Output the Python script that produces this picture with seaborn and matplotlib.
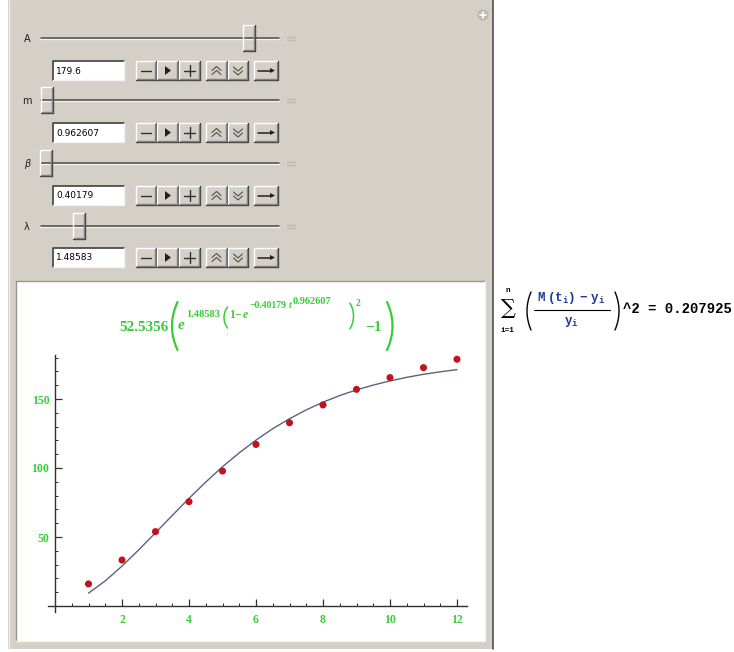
import numpy as np
import pandas as pd
import matplotlib
matplotlib.use("Agg")
import matplotlib.pyplot as plt
import seaborn as sns
from matplotlib.patches import Rectangle, Polygon, Circle
from matplotlib.ticker import MultipleLocator

# ---------------- data ----------------
t_obs = [1, 2, 3, 4, 5, 6, 7, 8, 9, 10, 11, 12]
y_obs = [16.0, 33.3, 53.9, 75.6, 97.8, 117.1, 132.8, 145.7, 157.0, 165.5, 172.7, 178.8]

t_fit = [1, 1.5, 2, 2.5, 3, 3.5, 4, 4.5, 5, 5.5, 6, 6.5, 7, 7.5, 8, 8.5,
         9, 9.5, 10, 10.5, 11, 11.5, 12]
y_fit = [9.3, 18.2, 28.9, 40.7, 53.1, 65.6, 78.0, 89.8, 100.9, 111.0, 120.2,
         128.5, 135.7, 142.1, 147.7, 152.5, 156.6, 160.1, 163.1, 165.7, 167.9,
         169.7, 171.3]

param_names = ["A", "m", "\u03b2", "\u03bb"]
param_values = ["179.6", "0.962607", "0.40179", "1.48583"]
x_ticks = [2, 4, 6, 8, 10, 12]
y_ticks = [50, 100, 150]
error_text = "^2 = 0.207925"

# ---------------- setup ----------------
sns.set_theme(style="white")
plt.rcParams["font.family"] = ["DejaVu Sans"]
plt.rcParams["mathtext.fontset"] = "custom"
plt.rcParams["mathtext.tt"] = "Liberation Mono:bold"
plt.rcParams["mathtext.rm"] = "Liberation Mono:bold"
plt.rcParams["mathtext.it"] = "Liberation Mono:bold"

W, H = 734, 652
fig = plt.figure(figsize=(W / 100, H / 100), dpi=100)
fig.patch.set_facecolor("white")

ui = fig.add_axes([0, 0, 1, 1])
ui.set_xlim(0, W)
ui.set_ylim(H, 0)
ui.axis("off")

GRAY = "#d4d0c8"
DARK = "#808080"
DARKER = "#404040"
GREEN = "#38cc38"

# panel
ui.add_patch(Rectangle((8, 0), 485, 649, facecolor=GRAY, edgecolor="none"))
ui.plot([493, 493], [0, 649], color="#505050", lw=1.2)
ui.plot([8.5, 8.5], [0, 649], color="#f0eeea", lw=1)
# white plot region (sunken)
ui.add_patch(Rectangle((16, 281), 469, 360, facecolor="white", edgecolor="none"))
ui.plot([16, 16, 485], [641, 281, 281], color="#9a968e", lw=1)
ui.plot([16, 485, 485], [641, 641, 281], color="#f4f2ee", lw=1)

# plus icon top right
ui.add_patch(Circle((483, 15), 5, facecolor="#c2beb6", edgecolor="#b0aca4", lw=0.5))
ui.plot([480, 486], [15, 15], color="white", lw=1.2)
ui.plot([483, 483], [12, 18], color="white", lw=1.2)


def raised(x, y, w, h):
    ui.add_patch(Rectangle((x, y), w, h, facecolor=GRAY, edgecolor="none"))
    ui.plot([x, x, x + w], [y + h, y, y], color="white", lw=1)
    ui.plot([x, x + w, x + w], [y + h, y + h, y], color=DARKER, lw=1)
    ui.plot([x + 1, x + w - 1, x + w - 1], [y + h - 1, y + h - 1, y + 1], color=DARK, lw=1)


def sunken_box(x, y, w, h):
    ui.add_patch(Rectangle((x, y), w, h, facecolor="white", edgecolor="none"))
    ui.plot([x, x, x + w], [y + h, y, y], color=DARKER, lw=1.2)
    ui.plot([x, x + w, x + w], [y + h, y + h, y], color="#f4f2ee", lw=1)


slider_y = [38, 100, 163, 226]
thumb_x = [243, 41, 40, 73]
box_top = [61, 123, 186, 248]
btn_x = [(136, 20), (157, 21), (179, 21), (206, 21), (228, 20), (254, 24)]

for i in range(4):
    sy = slider_y[i]
    ui.text(27, sy + 1, param_names[i], fontsize=7, ha="center", va="center",
            color="#202020", style="italic" if i == 2 else "normal")
    ui.plot([40, 279], [sy - 0.5, sy - 0.5], color="#4a4a4a", lw=1.8, solid_capstyle="butt")
    ui.plot([40, 279], [sy + 1.3, sy + 1.3], color="#f6f4f0", lw=1)
    ui.plot([287, 295], [sy - 1.5, sy - 1.5], color="#bdb9b1", lw=1)
    ui.plot([287, 295], [sy + 1.5, sy + 1.5], color="#bdb9b1", lw=1)
    raised(thumb_x[i], sy - 13, 12, 26)
    by = box_top[i]
    sunken_box(53, by, 71, 19)
    ui.text(56, by + 10, param_values[i], fontsize=6.5, ha="left", va="center", color="black")
    for bx, bw in btn_x:
        raised(bx, by, bw, 19)
    cy = by + 9.5
    ui.plot([141, 151], [cy, cy], color="#303030", lw=1)
    ui.add_patch(Polygon([[165, cy - 4.5], [165, cy + 4.5], [171, cy]], closed=True,
                         facecolor="#202020", edgecolor="none"))
    ui.plot([184, 195], [cy, cy], color="#303030", lw=1)
    ui.plot([189.5, 189.5], [cy - 5.5, cy + 5.5], color="#303030", lw=1)
    for dy in (-2.5, 1.5):
        ui.plot([212, 216.5, 221], [cy + dy + 2.5, cy + dy - 1.5, cy + dy + 2.5], color="#505050", lw=0.8)
    for dy in (-2.5, 1.5):
        ui.plot([233.5, 238, 242.5], [cy + dy - 1, cy + dy + 3, cy + dy - 1], color="#505050", lw=0.8)
    ui.plot([258, 272], [cy, cy], color="#202020", lw=1.1)
    ui.add_patch(Polygon([[270, cy - 2.5], [270, cy + 2.5], [275, cy]], closed=True,
                         facecolor="#202020", edgecolor="none"))


# ---------------- formula title (typeset piece by piece) ----------------
def paren(x_outer, x_inner, y0, y1, color, lw=1.4, n=30):
    ys = np.linspace(y0, y1, n)
    yc, h = (y0 + y1) / 2, (y1 - y0) / 2
    xs = x_outer + (x_inner - x_outer) * ((ys - yc) / h) ** 2
    ui.plot(xs, ys, color=color, lw=lw, solid_capstyle="round")


def gtxt(x, y, s, size, italic=False):
    ui.text(x, y, s, fontsize=size, color=GREEN, ha="left", va="baseline",
            family="Liberation Serif", fontweight="bold",
            style="italic" if italic else "normal")


gtxt(119, 331, "52.5356", 11)
paren(172, 177.5, 302, 350, GREEN, lw=1.6)
gtxt(178, 329, "e", 11, italic=True)
gtxt(186, 317, "1.48583", 7.5)
paren(224, 227.5, 307, 328, GREEN, lw=1.1)
gtxt(229, 318, "1\u2212", 8.5)
gtxt(243, 318, "e", 8.5, italic=True)
gtxt(250, 308, "\u22120.40179", 7)
gtxt(289, 308, "t", 7, italic=True)
gtxt(293, 304, "0.962607", 7.5)
paren(353.5, 350, 303, 329, GREEN, lw=1.1)
gtxt(356, 306, "2", 7)
gtxt(365, 331, "\u22121", 11)
paren(392.5, 387, 302, 350, GREEN, lw=1.6)

# ---------------- right formula ----------------
ui.text(508, 309, "\u2211", fontsize=15, ha="center", va="center", color="black",
        family="DejaVu Serif")
ui.text(508, 291, "n", fontsize=5.5, ha="center", va="center", color="black",
        family="Liberation Mono", fontweight="bold")
ui.text(508, 330, "i=1", fontsize=5.5, ha="center", va="center", color="black",
        family="Liberation Mono", fontweight="bold")
paren(527, 531, 292, 330, "black", lw=1.0)
paren(619, 615, 292, 330, "black", lw=1.0)
ui.text(571, 298, r"$\mathtt{M\ (t_i)\ -\ y_i}$", fontsize=9, ha="center", va="center",
        color="#1c3a90", math_fontfamily="custom")
ui.plot([534, 610], [310, 310], color="black", lw=0.8)
ui.text(571, 322, r"$\mathtt{y_i}$", fontsize=9, ha="center", va="center",
        color="#1c3a90", math_fontfamily="custom")
ui.text(623, 309, error_text, fontsize=10, ha="left", va="center", color="black",
        family="Liberation Mono", fontweight="bold")

# ---------------- plot ----------------
L, R, T, B = 48, 467, 355, 612
ax = fig.add_axes([L / W, (H - B) / H, (R - L) / W, (B - T) / H])
ax.patch.set_alpha(0)

fit_df = pd.DataFrame({"t": t_fit, "y": y_fit})
obs_df = pd.DataFrame({"t": t_obs, "y": y_obs})
sns.lineplot(data=fit_df, x="t", y="y", ax=ax, color="#5a6280", lw=1.0)
sns.scatterplot(data=obs_df, x="t", y="y", ax=ax, color="#c0141c", s=26,
                edgecolor="none", zorder=3)

ax.set_xlim((L - 55) / 33.5, (R - 55) / 33.5)
ax.set_ylim(-(B - 606) / 1.38, (606 - T) / 1.38)
ax.set_xlabel("")
ax.set_ylabel("")
for s in ("top", "right"):
    ax.spines[s].set_visible(False)
ax.spines["left"].set_position(("data", 0))
ax.spines["bottom"].set_position(("data", 0))
for s in ("left", "bottom"):
    ax.spines[s].set_color("#303030")
    ax.spines[s].set_linewidth(1.0)

ax.set_xticks(x_ticks)
ax.set_yticks(y_ticks)
ax.xaxis.set_minor_locator(MultipleLocator(0.5))
ax.yaxis.set_minor_locator(MultipleLocator(10))
ax.tick_params(which="major", direction="in", length=5, width=0.9, color="#303030")
ax.tick_params(which="minor", direction="in", length=2.5, width=0.7, color="#303030")
ax.tick_params(axis="x", which="major", pad=6)
ax.tick_params(axis="y", which="major", pad=4)
ax.tick_params(bottom=True, left=True, which="both")
for lab in ax.get_xticklabels() + ax.get_yticklabels():
    lab.set_fontfamily("Liberation Serif")
    lab.set_fontweight("bold")
    lab.set_fontsize(8.5)
    lab.set_color(GREEN)

fig.savefig("out.png", dpi=100)
